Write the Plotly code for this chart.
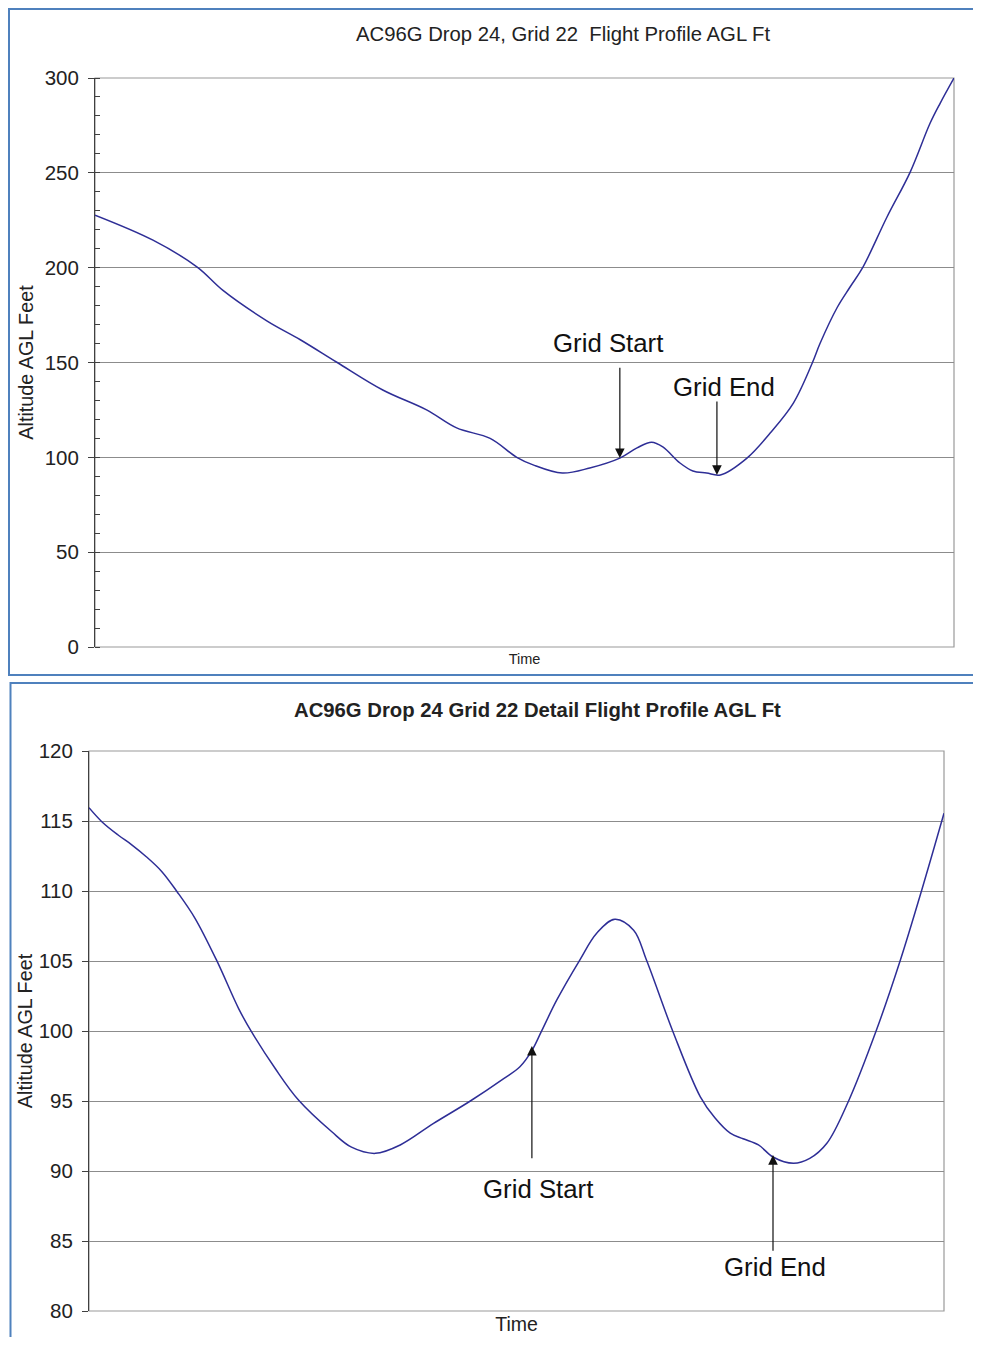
import plotly.graph_objects as go

# ---------------- data ----------------
# Overview flight profile (time in relative units 0..100)
overview_time = [0, 6.75, 11.9, 14.9, 20, 23.9, 28.2, 33.5, 38.6, 42.1, 46, 49.1, 51, 54.4,
                 57.6, 61.1, 63.1, 64.8, 66.1, 68.1, 69.6, 71.2, 72.8, 75.9, 78.6, 81.3,
                 83.5, 84.4, 86.4, 87.9, 89.4, 92.2, 94.9, 97.2, 98.4, 100]
overview_alt = [227.7, 214.5, 200.3, 188, 172, 162, 150, 135.5, 125, 115.5, 110, 100, 96, 91.7,
                94.4, 99.6, 105, 108, 105.5, 97, 92.8, 91.7, 90.7, 99.6, 112.8, 128.6,
                149.7, 160, 179, 189.8, 200.3, 226.7, 250.4, 276, 286.8, 300]

# Detail flight profile (time in relative units 0..100)
detail_time = [0, 1.5, 3.4, 5, 6.7, 8.5, 10.3, 12.4, 15, 17.5, 19, 21.8, 24.5, 28.4, 30.7,
               33.5, 36.4, 40.3, 44.6, 48.5, 50.4, 51.8, 52.9, 54.7, 57.4, 59.4, 61.5, 63.7,
               65.2, 68.3, 71.5, 73.2, 75, 76.5, 78.3, 80, 82.4, 84.3, 86.3, 88.8, 92.1,
               94.9, 97.4, 100]
detail_alt = [115.95, 114.95, 114.0, 113.3, 112.45, 111.4, 109.95, 108.05, 104.95, 101.6, 99.95,
              97.3, 95.07, 92.8, 91.7, 91.26, 91.86, 93.4, 95.0, 96.6, 97.45, 98.6, 99.95,
              102.2, 105.07, 107.0, 107.98, 107.2, 105.07, 99.95, 95.3, 93.8, 92.7, 92.3,
              91.86, 91.0, 90.55, 90.9, 91.98, 94.95, 100.07, 105.07, 110.07, 115.55]

# Grid start / end markers (time, altitude)
overview_grid_start = (61.1, 99.6)
overview_grid_end = (72.4, 90.7)
detail_grid_start = (51.8, 98.93)
detail_grid_end = (80.0, 91.14)

overview_title = "AC96G Drop 24, Grid 22  Flight Profile AGL Ft"
detail_title = "<b>AC96G Drop 24 Grid 22 Detail Flight Profile AGL Ft</b>"
y_title = "Altitude AGL Feet"
x_title = "Time"

# ---------------- layout helpers ----------------
# The page body has an 8px default margin; size the figure so the page is 981x1345.
OX, OY = 8, 8
W, H = 981 - 2 * OX, 1345 - 2 * OY


def fx(p):
    return (p - OX) / W


def fy(p):
    return 1 - (p - OY) / H


FONT = "Liberation Sans, Arial, sans-serif"
LINE_COLOR = "#2e2e96"
GRID = "#8c8c8c"
AXIS = "#404040"
BORDER = "#4f81bd"
TXT = "#222"

fig = go.Figure()

fig.add_trace(go.Scatter(x=overview_time, y=overview_alt, mode="lines",
                         line=dict(color=LINE_COLOR, width=1.5, shape="spline", smoothing=1.0),
                         xaxis="x", yaxis="y", showlegend=False, hoverinfo="skip"))
fig.add_trace(go.Scatter(x=detail_time, y=detail_alt, mode="lines",
                         line=dict(color=LINE_COLOR, width=1.5, shape="spline", smoothing=1.0),
                         xaxis="x2", yaxis="y2", showlegend=False, hoverinfo="skip"))

top_xd = [fx(95), fx(954)]
top_yd = [fy(647), fy(78)]
bot_xd = [fx(89), fx(944)]
bot_yd = [fy(1311), fy(751)]

tickfont = dict(family=FONT, size=20.5, color=TXT)

fig.update_layout(
    width=W, height=H,
    margin=dict(l=0, r=0, t=0, b=0, autoexpand=False),
    paper_bgcolor="white", plot_bgcolor="white",
    showlegend=False,
    xaxis=dict(domain=top_xd, anchor="y", range=[0, 100], showgrid=False, zeroline=False,
               showticklabels=False, ticks="", showline=False, automargin=False,
               title=dict(text=x_title, font=dict(family=FONT, size=14.5, color=TXT), standoff=6)),
    yaxis=dict(domain=top_yd, anchor="x", range=[0, 300], dtick=50, tick0=0,
               showgrid=True, gridcolor=GRID, gridwidth=1, zeroline=False,
               showline=True, linecolor=AXIS, linewidth=1, automargin=False,
               ticks="outside", ticklen=6, tickcolor=AXIS, tickwidth=1,
               minor=dict(dtick=10, ticks="inside", ticklen=5, tickcolor=AXIS, tickwidth=1, showgrid=False),
               tickfont=tickfont, ticklabelstandoff=5,
               title=dict(text=y_title, font=dict(family=FONT, size=19.8, color=TXT), standoff=5)),
    yaxis3=dict(overlaying="y", anchor="x", side="left", range=[0, 300], dtick=10, tick0=0,
                showgrid=False, zeroline=False, showline=False, showticklabels=False,
                automargin=False, ticks="outside", ticklen=4, tickcolor=AXIS, tickwidth=1),
    xaxis2=dict(domain=bot_xd, anchor="y2", range=[0, 100], showgrid=False, zeroline=False,
                showticklabels=False, ticks="", showline=False, automargin=False,
                title=dict(text=x_title, font=dict(family=FONT, size=19.5, color=TXT), standoff=6)),
    yaxis2=dict(domain=bot_yd, anchor="x2", range=[80, 120], dtick=5, tick0=80,
                showgrid=True, gridcolor=GRID, gridwidth=1, zeroline=False,
                showline=True, linecolor=AXIS, linewidth=1, automargin=False,
                ticks="outside", ticklen=6, tickcolor=AXIS, tickwidth=1,
                tickfont=tickfont, ticklabelstandoff=5,
                title=dict(text=y_title, font=dict(family=FONT, size=19.8, color=TXT), standoff=0)),
)

shapes = []
# plot-area frames (gray)
for xr, yr in (("x domain", "y domain"), ("x2 domain", "y2 domain")):
    shapes.append(dict(type="rect", xref=xr, yref=yr, x0=0, x1=1, y0=0, y1=1,
                       line=dict(color="#9a9a9a", width=1.2), layer="below"))
# blue panel borders (right / bottom edges run off the picture)
shapes.append(dict(type="rect", xref="paper", yref="paper", x0=fx(9), x1=fx(995),
                   y0=fy(675), y1=fy(9), line=dict(color=BORDER, width=2)))
shapes.append(dict(type="rect", xref="paper", yref="paper", x0=fx(10.5), x1=fx(995),
                   y0=fy(1360), y1=fy(683), line=dict(color=BORDER, width=2)))
fig.update_layout(shapes=shapes)

ann = []
ann.append(dict(text=overview_title, x=fx(563), y=fy(34), xref="paper", yref="paper",
                showarrow=False, font=dict(family=FONT, size=20.3, color=TXT),
                xanchor="center", yanchor="middle"))
ann.append(dict(text=detail_title, x=fx(537), y=fy(710), xref="paper", yref="paper",
                showarrow=False, font=dict(family=FONT, size=20.3, color=TXT),
                xanchor="center", yanchor="middle"))


def arrow(xa, ya, head, tail_alt):
    return dict(x=head[0], y=head[1], ax=head[0], ay=tail_alt, xref=xa, yref=ya,
                axref=xa, ayref=ya, text="", showarrow=True, arrowhead=2,
                arrowsize=1.6, arrowwidth=1.2, arrowcolor="#111", standoff=0, startstandoff=0)


def label(xa, ya, txt, x, y):
    return dict(text=txt, x=x, y=y, xref=xa, yref=ya, showarrow=False,
                font=dict(family=FONT, size=25.8, color="#111"),
                xanchor="center", yanchor="middle")


# overview annotations
ann.append(arrow("x", "y", overview_grid_start, 148))
ann.append(label("x", "y", "Grid Start", 59.7, 160.3))
ann.append(arrow("x", "y", overview_grid_end, 130.2))
ann.append(label("x", "y", "Grid End", 73.2, 137))
# detail annotations
ann.append(arrow("x2", "y2", detail_grid_start, 90.8))
ann.append(label("x2", "y2", "Grid Start", 52.5, 88.7))
ann.append(arrow("x2", "y2", detail_grid_end, 84.2))
ann.append(label("x2", "y2", "Grid End", 80.2, 83.14))
fig.update_layout(annotations=ann)

fig.write_html("out.html")
